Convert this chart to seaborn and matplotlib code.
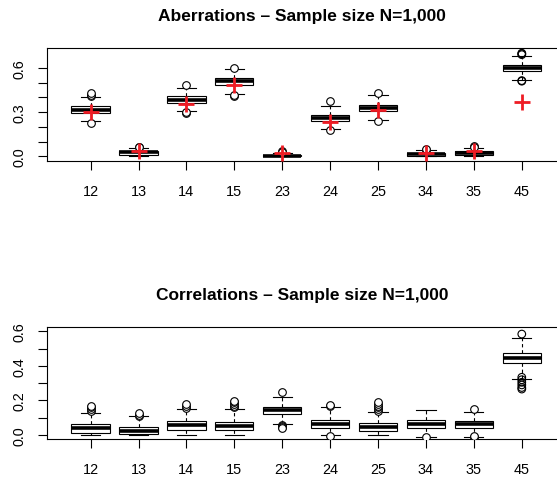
# Boxplots of estimated aberrations / correlations, N=1,000

import numpy as np
import pandas as pd
import matplotlib
matplotlib.use("Agg")
import matplotlib.pyplot as plt
import seaborn as sns

plt.rcParams['font.family'] = ['Liberation Sans', 'DejaVu Sans']

pairs = ['12', '13', '14', '15', '23', '24', '25', '34', '35', '45']

# Aberrations - box summaries
ab_low = [0.238, 0.000, 0.308, 0.425, 0.000, 0.185, 0.245, 0.000, 0.000, 0.520]
ab_q1 = [0.294, 0.011, 0.362, 0.486, 0.000, 0.238, 0.310, 0.002, 0.011, 0.577]
ab_med = [0.317, 0.027, 0.385, 0.509, 0.004, 0.258, 0.330, 0.013, 0.024, 0.600]
ab_q3 = [0.340, 0.038, 0.408, 0.530, 0.009, 0.279, 0.351, 0.024, 0.038, 0.622]
ab_high = [0.401, 0.054, 0.464, 0.595, 0.022, 0.340, 0.419, 0.040, 0.054, 0.681]
ab_out_pair = ['12', '12', '12', '12', '13', '13', '14', '14', '14', '15', '15', '15',
               '23', '23', '24', '24', '25', '25', '34', '34', '35', '35',
               '45', '45', '45', '45', '45']
ab_out_val = [0.408, 0.418, 0.428, 0.228, 0.065, 0.060, 0.482, 0.292, 0.298, 0.600, 0.412, 0.418,
              0.038, 0.032, 0.374, 0.178, 0.428, 0.238, 0.043, 0.047, 0.070, 0.065,
              0.690, 0.696, 0.700, 0.514, 0.510]
# true values (red crosses)
ab_true = [0.299, 0.034, 0.355, 0.486, 0.024, 0.231, 0.315, 0.020, 0.034, 0.367]

# Correlations
co_low = [0.000, 0.000, 0.000, 0.000, 0.062, 0.000, 0.000, -0.012, -0.012, 0.322]
co_q1 = [0.013, 0.004, 0.031, 0.029, 0.123, 0.039, 0.021, 0.041, 0.039, 0.415]
co_med = [0.039, 0.023, 0.058, 0.054, 0.145, 0.066, 0.045, 0.066, 0.061, 0.446]
co_q3 = [0.062, 0.048, 0.083, 0.077, 0.162, 0.089, 0.068, 0.087, 0.083, 0.476]
co_high = [0.129, 0.110, 0.150, 0.152, 0.222, 0.160, 0.131, 0.146, 0.135, 0.561]
co_out_pair = ['12', '12', '12', '12', '13', '13', '13', '14', '14', '14',
               '15', '15', '15', '15', '15', '23', '23', '23', '23', '23',
               '24', '24', '24', '25', '25', '25', '25', '25', '25', '34',
               '35', '35', '35', '45', '45', '45', '45', '45', '45', '45']
co_out_val = [0.140, 0.150, 0.160, 0.166, 0.112, 0.118, 0.125, 0.158, 0.168, 0.180,
              0.160, 0.170, 0.180, 0.190, 0.199, 0.251, 0.060, 0.052, 0.045, 0.038,
              0.166, 0.172, -0.005, 0.141, 0.150, 0.160, 0.170, 0.180, 0.189, -0.010,
              0.150, -0.010, -0.005, 0.584, 0.334, 0.320, 0.305, 0.290, 0.275, 0.266]


def draw_panel(ax, low, q1, med, q3, high, out_pair, out_val, title):
    # five numbers per pair -> quartiles come out exactly, whiskers go to min/max
    box_df = pd.DataFrame({
        'pair': np.repeat(pairs, 5),
        'value': np.column_stack([low, q1, med, q3, high]).ravel(),
    })
    sns.boxplot(data=box_df, x='pair', y='value', order=pairs, ax=ax,
                whis=np.inf, width=0.8, color='white', linecolor='black',
                linewidth=0.8, showfliers=False,
                boxprops={'edgecolor': 'black', 'linewidth': 0.8},
                whiskerprops={'color': 'black', 'linewidth': 0.8, 'linestyle': (0, (3, 2.5))},
                capprops={'color': 'black', 'linewidth': 0.8},
                medianprops={'color': 'black', 'linewidth': 2.6})
    out_df = pd.DataFrame({'pair': out_pair, 'value': out_val})
    sns.stripplot(data=out_df, x='pair', y='value', order=pairs, ax=ax, jitter=False,
                  color='white', edgecolor='black', linewidth=0.8, size=5.5)
    ax.collections[-1].set_facecolor('none')
    ax.set_title(title, fontsize=12.5, fontweight='bold', pad=20.5)


fig = plt.figure(figsize=(5.57, 4.81), dpi=100)
ax1 = fig.add_axes([0.0844, 0.6638, 0.9156, 0.2333])
ax2 = fig.add_axes([0.0844, 0.0852, 0.9156, 0.2322])

draw_panel(ax1, ab_low, ab_q1, ab_med, ab_q3, ab_high, ab_out_pair, ab_out_val,
           'Aberrations \u2013 Sample size N=1,000')
truth_df = pd.DataFrame({'pair': pairs, 'value': ab_true})
sns.stripplot(data=truth_df, x='pair', y='value', order=pairs, ax=ax1, jitter=False,
              marker='+', color='#ee1c24', linewidth=2.0, size=11, zorder=5)

draw_panel(ax2, co_low, co_q1, co_med, co_q3, co_high, co_out_pair, co_out_val,
           'Correlations \u2013 Sample size N=1,000')

ax1.set_ylim(-0.03, 0.732)
ax1.set_yticks(np.arange(7) / 10)
ax1.set_yticklabels(['0.0', '', '', '0.3', '', '', '0.6'], rotation=90, va='center')
ax2.set_ylim(-0.023, 0.623)
ax2.set_yticks(np.arange(7) / 10)
ax2.set_yticklabels(['0.0', '', '0.2', '', '0.4', '', '0.6'], rotation=90, va='center')

for ax in (ax1, ax2):
    ax.set_xlim(-0.91, 9.735)
    ax.set_xlabel('')
    ax.set_ylabel('')
    ax.spines['right'].set_visible(False)
    for s in ['top', 'left', 'bottom']:
        ax.spines[s].set_linewidth(0.8)
    ax.tick_params(axis='both', length=6.5, width=0.8, labelsize=10.4, colors='black')
    ax.tick_params(axis='x', pad=10)
    ax.tick_params(axis='y', pad=8)

fig.savefig('out.png', dpi=100)
